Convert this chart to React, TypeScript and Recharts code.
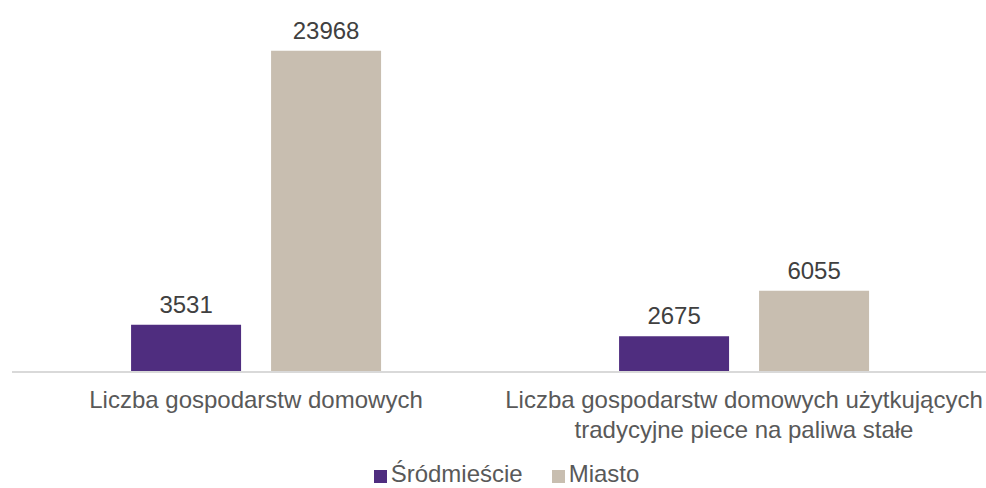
import { BarChart, Bar, XAxis, YAxis, LabelList, Legend } from "recharts";

const categories = [
  ["Liczba gospodarstw domowych"],
  ["Liczba gospodarstw domowych użytkujących", "tradycyjne piece na paliwa stałe"],
];
const srodmiescie = [3531, 2675];
const miasto = [23968, 6055];

const data = categories.map((lines, i) => ({
  name: lines.join(" "),
  lines,
  srodmiescie: srodmiescie[i],
  miasto: miasto[i],
}));

const PURPLE = "#4F2D7F";
const BEIGE = "#C8BEB0";
const FONT = "'Liberation Sans', Arial, sans-serif";

function CategoryTick({ x, y, payload, index }: any) {
  const lines = data[index]?.lines ?? [payload.value];
  return (
    <text x={x} y={y} textAnchor="middle" fill="#595959" fontSize={24} fontFamily={FONT}>
      {lines.map((l: string, i: number) => (
        <tspan key={i} x={x} dy={i === 0 ? 28 : 30}>
          {l}
        </tspan>
      ))}
    </text>
  );
}

function LegendContent() {
  const items = [
    { label: "Śródmieście", color: PURPLE },
    { label: "Miasto", color: BEIGE },
  ];
  return (
    <div
      style={{
        display: "flex",
        justifyContent: "center",
        gap: 29,
        height: 22,
        lineHeight: "22px",
        paddingLeft: 27,
        fontFamily: FONT,
        fontSize: 24,
        color: "#595959",
      }}
    >
      {items.map((it) => (
        <div key={it.label} style={{ display: "flex", alignItems: "flex-start" }}>
          <span
            style={{ width: 13, height: 13, marginTop: 7, background: it.color, display: "inline-block", marginRight: 4 }}
          />
          {it.label}
        </div>
      ))}
    </div>
  );
}

export default function App() {
  return (
    <div style={{ width: 986, height: 488, overflow: "hidden" }}>
      <style>{`html, body { margin: 0; padding: 0; overflow: hidden; }`}</style>
      <BarChart
        width={986}
        height={488}
        data={data}
        margin={{ top: 37, right: -2, bottom: 24, left: 12 }}
        barCategoryGap="24.4%"
        barGap={30}
        style={{ overflow: "visible" }}
      >
        <XAxis
          dataKey="name"
          axisLine={{ stroke: "#D9D9D9", strokeWidth: 2 }}
          tickLine={false}
          tick={<CategoryTick />}
          interval={0}
          height={70}
        />
        <YAxis hide domain={[0, 25000]} />
        <Legend content={<LegendContent />} wrapperStyle={{ top: 463, left: 0, width: 986 }} />
        <Bar dataKey="srodmiescie" name="Śródmieście" fill={PURPLE} isAnimationActive={false}>
          <LabelList dataKey="srodmiescie" position="top" offset={12} fill="#404040" fontSize={24} fontFamily={FONT} />
        </Bar>
        <Bar dataKey="miasto" name="Miasto" fill={BEIGE} isAnimationActive={false}>
          <LabelList dataKey="miasto" position="top" offset={12} fill="#404040" fontSize={24} fontFamily={FONT} />
        </Bar>
      </BarChart>
    </div>
  );
}
